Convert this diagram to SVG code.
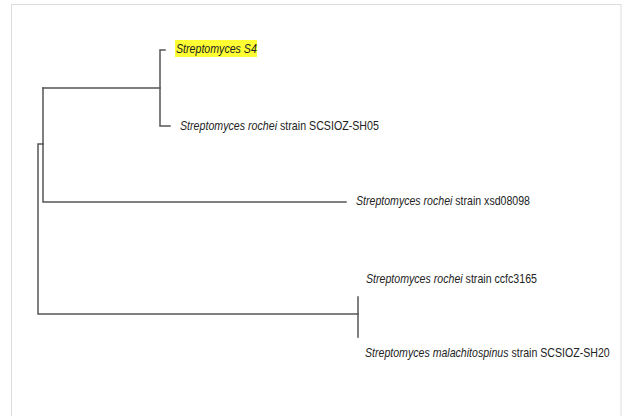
<svg xmlns="http://www.w3.org/2000/svg" width="624" height="416" viewBox="0 0 624 416">
<style>
  .br { fill: none; stroke: #555; stroke-width: 1.5; stroke-linecap: square; }
  .lb { font-family: "Liberation Sans", Arial, sans-serif; font-size: 13px; fill: #222; }
  .it { font-style: italic; }
</style>
<rect x="0" y="0" width="624" height="416" fill="#ffffff"/>
<rect x="11.5" y="4.5" width="609.5" height="430" fill="none" stroke="#dcdcdc" stroke-width="1"/>
<g id="connectors">
  <path class="br" d="M165 50 H160 V126 H170"/>
  <path class="br" d="M160 88 H43"/>
  <path class="br" d="M43 88 V202 H346"/>
  <path class="br" d="M43 144 H38 V314 H358"/>
  <path class="br" d="M358 297 V337"/>
</g>
<g id="node-s4">
  <rect x="175" y="40" width="82" height="17" fill="#ffff33"/>
  <text class="lb it" transform="translate(176 53) scale(0.818 1)">Streptomyces S4</text>
</g>
<g id="node-sh05">
  <text class="lb" transform="translate(180 130) scale(0.82 1)"><tspan class="it">Streptomyces rochei</tspan> strain SCSIOZ-SH05</text>
</g>
<g id="node-xsd08098">
  <text class="lb" transform="translate(356 205) scale(0.814 1)"><tspan class="it">Streptomyces rochei</tspan> strain xsd08098</text>
</g>
<g id="node-ccfc3165">
  <text class="lb" transform="translate(366 283) scale(0.816 1)"><tspan class="it">Streptomyces rochei</tspan> strain ccfc3165</text>
</g>
<g id="node-sh20">
  <text class="lb" transform="translate(365 357) scale(0.815 1)"><tspan class="it">Streptomyces malachitospinus</tspan> strain SCSIOZ-SH20</text>
</g>
</svg>
